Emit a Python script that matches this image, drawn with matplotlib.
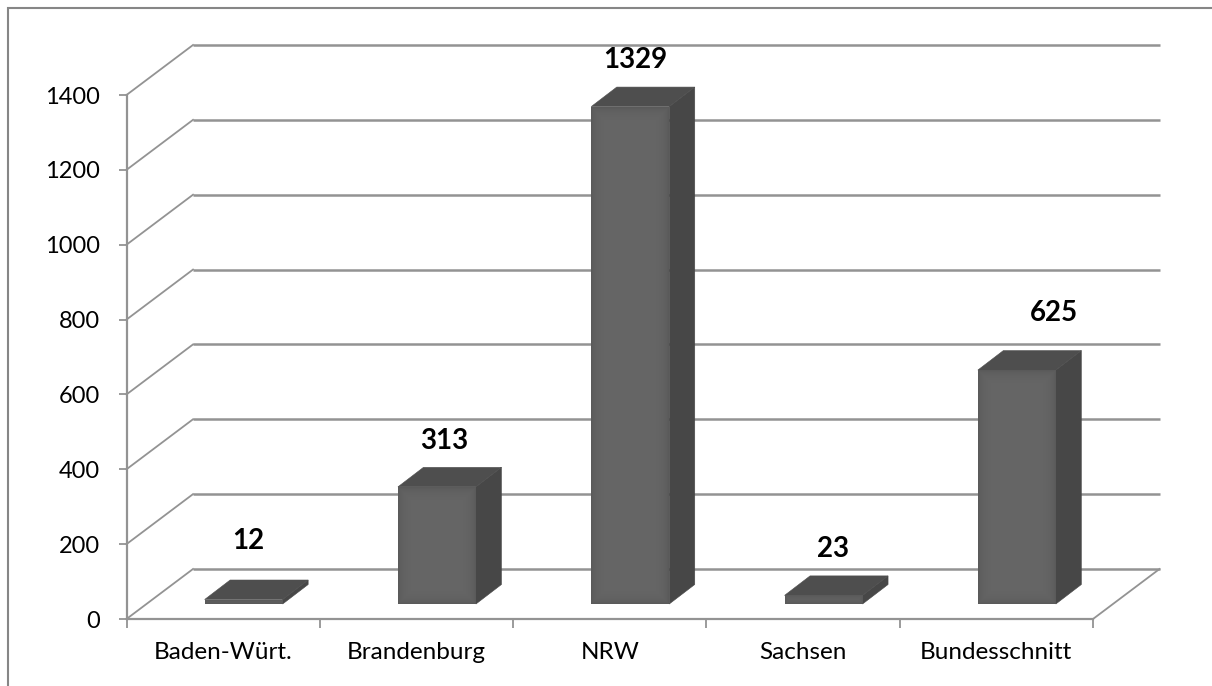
import matplotlib
matplotlib.use("Agg")
import matplotlib.pyplot as plt
from matplotlib.lines import Line2D

categories = ["Baden-Würt.", "Brandenburg", "NRW", "Sachsen", "Bundesschnitt"]
values = [12, 313, 1329, 23, 625]
y_ticks = [0, 200, 400, 600, 800, 1000, 1200, 1400]

W, H = 1212, 686
L, R, T, B = 126.5, 1093, 95, 619   # front plane in pixels
PX_X = (R - L) / 5                  # px per category
PX_Y = (B - T) / 1400               # px per value unit

def ddx(px): return px / PX_X
def ddy(px): return px / PX_Y

WALL_X, WALL_Y = ddx(66.5), ddy(50)
OFF_X, OFF_Y = ddx(20.5), ddy(15)
DEP_X, DEP_Y = ddx(25.5), ddy(19.5)
BAR_W = 78 / PX_X

GRID = "#939393"
SIDE, TOP = "#474747", "#4e4e4e"
FRONT_LAYERS = [(0, "#5a5a5a"), (1, "#5c5c5c"), (2, "#5e5e5e"), (3, "#5f5f5f"), (4, "#606060"),
                (5, "#616161"), (6, "#626262"), (8, "#636363"), (10, "#646464"), (13, "#656565")]

plt.rcParams["font.family"] = ["Lato", "DejaVu Sans"]
fig = plt.figure(figsize=(W / 100, H / 100), dpi=100, facecolor="white")
ax = fig.add_axes([L / W, 1 - B / H, (R - L) / W, (B - T) / H])
ax.set_xlim(-0.5, 4.5)
ax.set_ylim(0, 1400)
ax.patch.set_visible(False)
for s in ("top", "right"):
    ax.spines[s].set_visible(False)
for s in ("left", "bottom"):
    ax.spines[s].set_color(GRID)
    ax.spines[s].set_linewidth(1.6)

# outer frame: only the top and left edges are in the picture
fig.add_artist(Line2D([7.5 / W, 7.5 / W, 1], [0, 1 - 8 / H, 1 - 8 / H], transform=fig.transFigure,
                      color="#868686", linewidth=1.5, solid_joinstyle="miter"))

# back wall gridlines and left wall diagonals
for v in y_ticks:
    ax.plot([-0.5 + WALL_X, 4.5 + WALL_X], [v + WALL_Y, v + WALL_Y], color=GRID, lw=1.8,
            clip_on=False, zorder=1, solid_capstyle="butt")
    ax.plot([-0.5, -0.5 + WALL_X], [v, v + WALL_Y], color=GRID, lw=1.3, clip_on=False, zorder=1)
ax.plot([4.5, 4.5 + WALL_X], [0, WALL_Y], color=GRID, lw=1.3, clip_on=False, zorder=1)

x_pos = list(range(len(categories)))

# bars
bar_x = [x + OFF_X for x in x_pos]
for x, v in zip(bar_x, values):
    l, r = x - BAR_W / 2, x + BAR_W / 2
    ax.fill([r, r + DEP_X, r + DEP_X, r], [OFF_Y, OFF_Y + DEP_Y, OFF_Y + DEP_Y + v, OFF_Y + v],
            facecolor=SIDE, edgecolor=SIDE, lw=0.4, clip_on=False, zorder=3)
    ax.fill([l, r, r + DEP_X, l + DEP_X],
            [OFF_Y + v, OFF_Y + v, OFF_Y + v + DEP_Y, OFF_Y + v + DEP_Y],
            facecolor=TOP, edgecolor=TOP, lw=0.4, clip_on=False, zorder=3)
for i, (inset, colour) in enumerate(FRONT_LAYERS):
    heights = [max(v - ddy(2 * inset), 0) for v in values]
    ax.bar(bar_x, heights, width=BAR_W - ddx(2 * inset), bottom=OFF_Y + ddy(inset), color=colour,
           linewidth=0, clip_on=False, zorder=4 + i * 0.1)

# value labels
label_dx = [5, 7, 5, 9, 37]
label_dy = [58.5, 45.5, 46.5, 46, 57]
for x, v, dx, dy in zip(bar_x, values, label_dx, label_dy):
    ax.annotate(str(v), (x, OFF_Y + v), xytext=(dx * 0.72, dy * 0.72), textcoords="offset points",
                ha="center", va="center", fontsize=20, fontweight="bold", color="black", zorder=6,
                annotation_clip=False)

# axes ticks
ax.set_yticks(y_ticks)
ax.set_yticklabels([str(v) for v in y_ticks], fontsize=17, color="black")
ax.tick_params(axis="y", length=6, width=1.3, color=GRID, pad=13)
ax.set_xticks([i - 0.5 for i in range(6)])
ax.set_xticklabels([])
ax.tick_params(axis="x", length=6.5, width=1.3, color=GRID)
for x, c in zip(x_pos, categories):
    ax.annotate(c, (x, 0), xytext=(0, -24), textcoords="offset points", ha="center", va="center",
                fontsize=17.5, color="black", annotation_clip=False)

fig.savefig("out.png", dpi=100, facecolor="white")
